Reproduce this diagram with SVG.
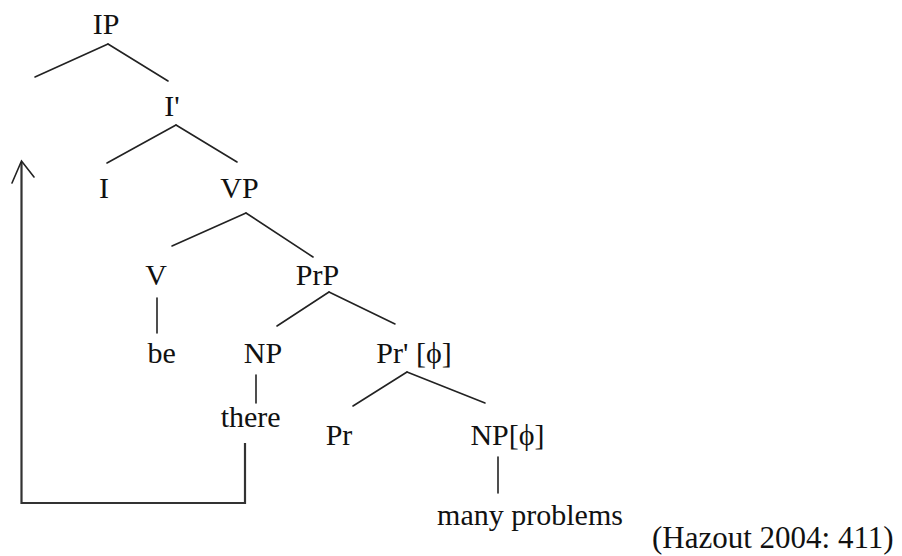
<svg xmlns="http://www.w3.org/2000/svg" width="902" height="556" viewBox="0 0 902 556">
<style>
.t{font-family:'Liberation Serif','Times New Roman',serif;font-size:30px;fill:#111;text-anchor:middle}
.cite{font-family:'Liberation Serif','Times New Roman',serif;font-size:31px;fill:#111;text-anchor:start}
.e{stroke:#222;stroke-width:1.6;fill:none;stroke-linecap:round}
.mv{stroke:#333;stroke-width:2.2;fill:none;stroke-linejoin:miter}
</style>
<rect width="902" height="556" fill="#fff"/>
<g id="connectors">
<line class="e" x1="108" y1="44" x2="35" y2="77"/>
<line class="e" x1="108" y1="44" x2="168" y2="81"/>
<line class="e" x1="176" y1="125" x2="107" y2="163"/>
<line class="e" x1="176" y1="125" x2="237" y2="162"/>
<line class="e" x1="246" y1="213" x2="172" y2="246"/>
<line class="e" x1="246" y1="213" x2="313" y2="257"/>
<line class="e" x1="157" y1="298" x2="157" y2="333"/>
<line class="e" x1="329" y1="292" x2="277" y2="326"/>
<line class="e" x1="329" y1="292" x2="395" y2="324"/>
<line class="e" x1="256" y1="375" x2="256" y2="403"/>
<line class="e" x1="407" y1="372" x2="353" y2="406"/>
<line class="e" x1="407" y1="372" x2="485" y2="403"/>
<line class="e" x1="498" y1="457" x2="498" y2="493"/>
<polyline class="mv" points="245,443 245,503 21.5,503 21.5,162"/>
<polyline class="e" points="12,183 21.5,161 34,177"/>
</g>
<g id="n-IP"><text class="t" font-family="Liberation Serif, serif" x="106" y="34">IP</text></g>
<g id="n-Ibar"><text class="t" font-family="Liberation Serif, serif" x="172" y="116">I'</text></g>
<g id="n-I"><text class="t" font-family="Liberation Serif, serif" x="104" y="198">I</text></g>
<g id="n-VP"><text class="t" font-family="Liberation Serif, serif" x="239.5" y="198">VP</text></g>
<g id="n-V"><text class="t" font-family="Liberation Serif, serif" x="156" y="285">V</text></g>
<g id="n-PrP"><text class="t" font-family="Liberation Serif, serif" x="317.5" y="285">PrP</text></g>
<g id="n-be"><text class="t" font-family="Liberation Serif, serif" x="161.7" y="363">be</text></g>
<g id="n-NP"><text class="t" font-family="Liberation Serif, serif" x="263" y="363">NP</text></g>
<g id="n-Prbar"><text class="t" font-family="Liberation Serif, serif" x="414" y="363">Pr' [ϕ]</text></g>
<g id="n-there"><text class="t" font-family="Liberation Serif, serif" x="250.7" y="427">there</text></g>
<g id="n-Pr"><text class="t" font-family="Liberation Serif, serif" x="339" y="445">Pr</text></g>
<g id="n-NPphi"><text class="t" font-family="Liberation Serif, serif" x="507.5" y="445">NP[ϕ]</text></g>
<g id="n-many"><text class="t" font-family="Liberation Serif, serif" x="530" y="525">many problems</text></g>
<g id="citation"><text class="cite" x="652" y="548">(Hazout 2004: 411)</text></g>
</svg>
